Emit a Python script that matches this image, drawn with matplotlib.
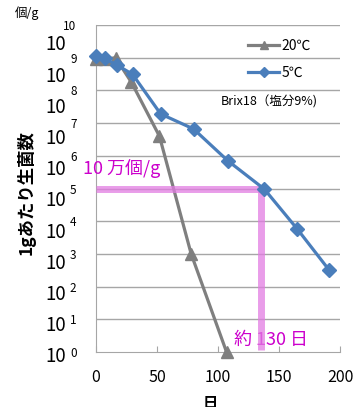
import numpy as np
import matplotlib.pyplot as plt

plt.rcParams['font.family'] = ['Noto Sans CJK JP', 'DejaVu Sans']

# 20℃ (灰色, 三角)
days_20 = [0, 7, 16, 29, 52, 78, 107]
log_20 = [8.95, 8.95, 9.0, 8.25, 6.6, 3.0, 0.0]

# 5℃ (青, ひし形)
days_5 = [0, 7, 17, 30, 53, 80, 108, 138, 165, 191]
log_5 = [9.06, 8.98, 8.78, 8.49, 7.28, 6.82, 5.85, 4.98, 3.76, 2.51]

# 10万個/g の目安線
limit_log = 5
limit_day = 135

exponents = list(range(0, 11))
xticks = [0, 50, 100, 150, 200]

W, H = 364, 407
fig = plt.figure(figsize=(W / 100, H / 100), dpi=100)
ax = fig.add_axes([96 / W, 1 - 352 / H, (340 - 96) / W, (352 - 25) / H])

ax.set_xlim(0, 200)
ax.set_ylim(0, 10)

# グリッド
for e in exponents[1:]:
    ax.axhline(e, color='#a6a6a6', lw=1, zorder=1)

ax.plot(days_20, log_20, color='#7f7f7f', lw=2.3, marker='^', ms=8,
        label='20℃', zorder=3, clip_on=False)
ax.plot(days_5, log_5, color='#4a7ebb', lw=2.3, marker='D', ms=7,
        label='5℃', zorder=4, clip_on=False)

# 目安線 (ピンク)
pink = '#e27ce2'
ax.plot([0, limit_day], [limit_log, limit_log], color=pink, lw=5, alpha=0.75,
        solid_capstyle='butt', zorder=3.5)
ax.plot([limit_day, limit_day], [limit_log, 0.05], color=pink, lw=5, alpha=0.75,
        solid_capstyle='butt', zorder=3.5)

ax.text(-10.5, 5.6, '10 万個/g', color='#cc00cc', fontsize=13, va='center', ha='left')
ax.text(113, 0.38, '約 130 日', color='#cc00cc', fontsize=13, va='center', ha='left')
ax.text(102, 7.65, 'Brix18（塩分9%)', fontsize=9, va='center', ha='left')

# 軸
for s in ['top', 'right']:
    ax.spines[s].set_visible(False)
for s in ['left', 'bottom']:
    ax.spines[s].set_color('#a6a6a6')
ax.set_xticks(xticks)
ax.set_xticklabels([str(t) for t in xticks], fontsize=11.5)
ax.tick_params(axis='x', direction='in', length=4, color='#a6a6a6', pad=12)
ax.set_yticks(exponents)
ax.set_yticklabels([str(e) for e in exponents], fontsize=8.5)
ax.tick_params(axis='y', length=0, pad=14)

# 指数の底 "10"
for i in range(len(exponents)):
    y = 45 + i * 31.2
    fig.text(45 / W, 1 - y / H, '10', fontsize=13.5, ha='left', va='center')

fig.text(15 / W, 1 - 13 / H, '個/g', fontsize=9, ha='left', va='center')
fig.text(26 / W, 1 - 193 / H, '1gあたり生菌数', fontsize=12.5, fontweight='bold',
         rotation=90, ha='center', va='center')
fig.text(210 / W, 1 - 395 / H, '日', fontsize=11, fontweight='bold',
         ha='center', va='top')

leg = ax.legend(loc='upper right', bbox_to_anchor=(318 / W, 1 - 32 / H),
                bbox_transform=fig.transFigure, frameon=False, fontsize=10,
                handlelength=2.2, handletextpad=0.2, labelspacing=0.95,
                borderpad=0, markerscale=0.75)

fig.savefig('out.png', dpi=100)
